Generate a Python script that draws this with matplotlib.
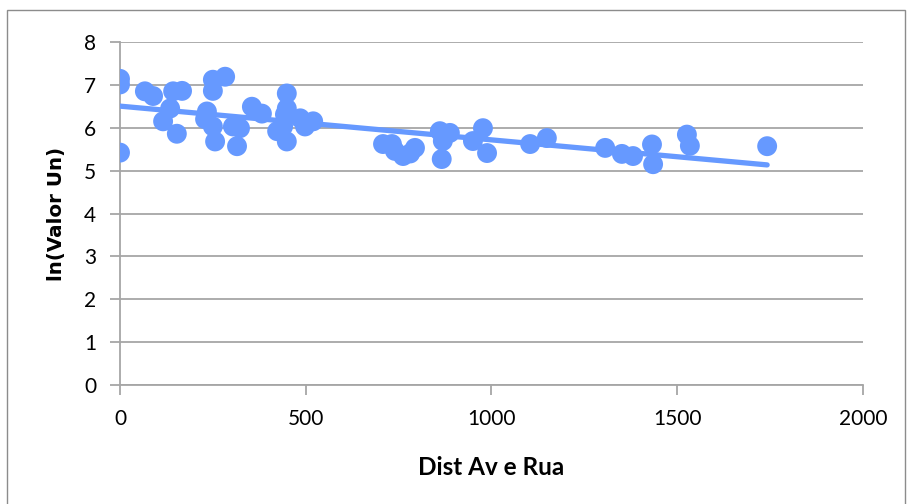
import numpy as np
import matplotlib
matplotlib.use("Agg")
import matplotlib.pyplot as plt
from matplotlib.patches import Rectangle

plt.rcParams['font.family'] = ['Lato', 'DejaVu Sans']

dist = [0, 0, 0, 67, 89, 116, 135, 143, 153, 167, 229, 234, 250, 250, 250, 256,
        283, 304, 315, 323, 355, 382, 423, 439, 444, 449, 449, 449, 485, 498, 520,
        708, 732, 740, 762, 781, 794, 861, 866, 869, 888, 950, 977, 988, 1104, 1149,
        1306, 1351, 1381, 1432, 1435, 1526, 1534, 1742]
ln_valor = [7.14, 7.01, 5.42, 6.85, 6.74, 6.15, 6.45, 6.85, 5.86, 6.86, 6.20, 6.38,
            7.12, 6.86, 6.03, 5.68, 7.19, 6.03, 5.57, 5.99, 6.49, 6.33, 5.92, 6.03,
            6.31, 6.80, 6.45, 5.68, 6.22, 6.03, 6.15, 5.62, 5.62, 5.46, 5.34, 5.40,
            5.53, 5.92, 5.27, 5.69, 5.88, 5.69, 5.99, 5.41, 5.62, 5.76, 5.53, 5.39,
            5.34, 5.61, 5.15, 5.84, 5.58, 5.57]

x_ticks = [0, 500, 1000, 1500, 2000]
y_ticks = [0, 1, 2, 3, 4, 5, 6, 7, 8]

blue = '#6699FF'
grid_gray = '#A6A6A6'

fig = plt.figure(figsize=(9.11, 5.04), dpi=100)
fig.patches.append(Rectangle((7 / 911, -0.05), (905 - 7) / 911, 1 - 10 / 504 + 0.05,
                             transform=fig.transFigure, fill=False,
                             edgecolor='#8C8C8C', linewidth=1.0))

ax = fig.add_axes([120 / 911, 1 - 385 / 504, (863 - 120) / 911, (385 - 42) / 504])

x = np.array(dist, dtype=float)
y = np.array(ln_valor, dtype=float)
ax.scatter(x, y, s=205, color=blue, edgecolors='none', zorder=3)

# linear trend line over the data range
slope, intercept = np.polyfit(x, y, 1)
xs = np.array([x.min(), x.max()])
ax.plot(xs, intercept + slope * xs, color=blue, linewidth=3.8,
        solid_capstyle='round', zorder=3)

ax.set_xlim(0, 2000)
ax.set_ylim(0, 8)
ax.set_xticks(x_ticks)
ax.set_yticks(y_ticks)
ax.yaxis.grid(True, color=grid_gray, linewidth=1.3)
ax.set_axisbelow(True)
for s in ('top', 'right'):
    ax.spines[s].set_visible(False)
for s in ('left', 'bottom'):
    ax.spines[s].set_color(grid_gray)
    ax.spines[s].set_linewidth(1.3)
ax.tick_params(axis='both', direction='out', length=7, width=1.3,
               color=grid_gray, labelsize=15, labelcolor='black')
ax.tick_params(axis='x', pad=10)
ax.tick_params(axis='y', pad=10)

ax.set_xlabel('Dist Av e Rua', fontsize=17.5, fontweight='bold', labelpad=20)
ax.set_ylabel('ln(Valor Un)', fontsize=14.3, fontweight='bold', labelpad=13,
              family=['DejaVu Sans'])

fig.savefig('out.png', dpi=100)
